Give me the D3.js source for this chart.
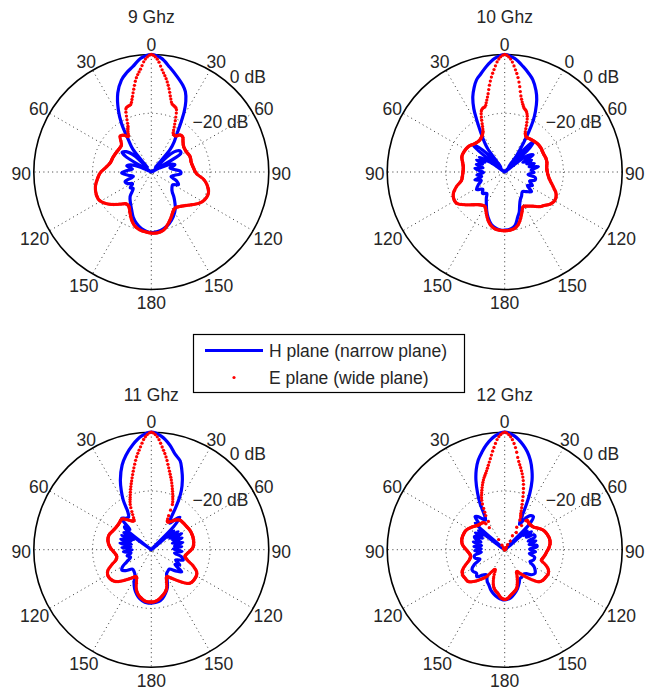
<!DOCTYPE html>
<html><head><meta charset="utf-8">
<script src="https://cdn.jsdelivr.net/npm/d3@7"></script>
<style>
body{margin:0;background:#fff}
svg{display:block}
text{font-family:"Liberation Sans",Arial,Helvetica,sans-serif;fill:#262626}
</style>
</head><body>
<svg id="chart" width="653" height="690"></svg>
<script>
// ---------------- data ----------------
const frequencies = ["9 Ghz", "10 Ghz", "11 Ghz", "12 Ghz"];
const angleTicks = [0, 30, 60, 90, 120, 150, 180];
const dbRings = [0, -20];
const dbMin = -40;
const seriesNames = ["H plane (narrow plane)", "E plane (wide plane)"];

// [angle (deg, clockwise from top, negative = left), level (dB)]
const h9 = [[-175,-19.8],[-170,-20.5],[-164,-21.8],[-158,-23.5],[-152.5,-25.5],[-146,-27.3],[-139,-29],[-132,-31.7],[-127,-31],[-122,-32.5],[-116,-31],[-110,-30.5],[-104,-33.7],[-98,-32],[-92,-29.9],[-86,-32],[-81,-33.5],[-76,-31.4],[-71,-32.5],[-66,-36],[-62,-40],[-59,-30],[-56,-28],[-51,-29],[-46,-32],[-42,-38],[-39,-30],[-35.5,-26.6],[-31.5,-20.6],[-28,-16.1],[-23,-10.8],[-18,-7.1],[-14,-5.2],[-10,-3.6],[-5,-1],
  [0,0],[5,-1.1],[10,-3.8],[15,-6.3],[20,-8.6],[23,-10.3],[26,-13.2],[28.5,-16.5],[31,-20.5],[34,-24.5],[37,-27],[40,-30],[43,-38],[47,-31],[51,-28.5],[55,-27.8],[58,-28.2],[61,-40],[64,-37],[68,-33],[73,-31.6],[78,-33.5],[83,-32.5],[88,-30.2],[93,-29.9],[98,-32],[103,-33.1],[109,-31],[115,-29.8],[121,-31.5],[127,-31.2],[133,-30.3],[138,-28.5],[142,-27],[147,-25],[154,-23],[161,-21.4],[168,-20.2],[174,-19.6],[180,-19.4]];
const e9 = [[-175,-19.5],[-170,-19.8],[-163,-20.8],[-157,-22.6],[-152,-24.5],[-147,-26],[-142,-26.2],[-136,-24.8],[-130,-22.8],[-124,-21],[-118,-19.8],[-112,-19.8],[-105,-20.3],[-98,-21.4],[-91,-22.6],[-84,-24.5],[-77,-25.7],[-70,-26],[-62,-26.3],[-55,-26.5],[-48,-26.3],[-44,-25],[-41,-23.8],[-37,-24.3],[-33,-25.6],[-30,-24],[-27,-22.5],[-24,-19.2],[-21.5,-16.6],[-19,-16.2],[-17,-16],[-15,-14.5],[-12,-11.2],[-9,-7.5],[-6,-4.8],[-3,-1.5],
  [0,0],[3,-1.5],[6,-5],[9,-7.8],[12,-11],[15,-14.3],[17,-15.8],[19,-16.2],[21.5,-16.8],[24,-19.5],[27,-22.8],[30,-25],[34,-25.2],[38,-24],[42,-24],[46,-25],[52,-26],[60,-26.2],[68,-25.8],[76,-26],[84,-25.6],[92,-24.6],[98,-22],[104,-20.3],[110,-19.3],[116,-19.4],[122,-20.3],[128,-22],[134,-23.6],[140,-24.7],[146,-25.3],[151,-24.7],[156,-23.3],[162,-21.5],[168,-19.8],[174,-19.2],[180,-19.2]];

const h10 = [[-176,-20.2],[-172,-20.5],[-166,-21.5],[-160,-23.5],[-155,-25.5],[-150,-27.5],[-145,-29.1],[-140,-30.5],[-134,-29.5],[-128,-30.5],[-122,-28.7],[-116,-30],[-110,-31.5],[-105,-29.5],[-101,-32],[-96,-30.5],[-91,-32.8],[-87,-31.5],[-83,-29.8],[-79,-32.5],[-75,-30],[-71,-32],[-67,-29.6],[-64,-32.5],[-60,-30],[-56,-34],[-53,-40],[-50,-26.2],[-48,-26.5],[-44,-31],[-40,-38],[-36,-30],[-33.5,-27],[-30.5,-23.4],[-28,-19.5],[-26,-16],[-23,-12.2],[-20,-9.5],[-17,-7.2],[-14,-5.8],[-10,-3.6],[-5,-1.2],
  [0,0],[5,-1.2],[10,-3.6],[14,-5.6],[17,-7.2],[21,-10.3],[24,-13.2],[27,-17],[29,-20],[31,-24],[33,-28.4],[36,-33],[38,-38],[41,-29],[43.5,-25.8],[46,-28],[49,-40],[53,-32],[56,-29.5],[59,-28.7],[62,-33],[66,-30],[70,-32],[74,-29.5],[78,-31.5],[81,-28.4],[86,-31],[91,-30],[96,-32],[100,-29.5],[105,-29.3],[110,-31],[116,-29.5],[121,-31],[126,-28.7],[132,-30],[138,-31],[145,-30],[151,-29.1],[156,-27.5],[160,-25.5],[164,-24],[169,-21.5],[174,-20.5],[180,-20.2]];
const e10 = [[-175,-20.1],[-170,-20.4],[-164,-21.6],[-159,-23.4],[-155,-25],[-150,-26.5],[-143,-26],[-136,-24.5],[-129,-22.3],[-123,-20.5],[-118,-20.4],[-113,-21],[-107,-22.8],[-101,-25],[-96,-25.5],[-90,-25.8],[-83,-25.8],[-77,-25.3],[-70,-24.5],[-61,-24.6],[-54,-25],[-46,-26],[-38,-26.2],[-33,-25.6],[-29,-24.7],[-26,-22.8],[-23.5,-20.2],[-21,-17.8],[-19,-17],[-16.8,-16.8],[-14.5,-15.2],[-12,-12.8],[-10,-10],[-8,-7.4],[-6,-5],[-3,-1.5],
  [0,0],[3,-1.5],[6,-5],[8,-7.5],[10,-10.5],[12,-13.5],[14.5,-15.8],[17,-17.3],[19.5,-18],[22,-19.5],[25,-22.5],[28,-25.1],[32,-26],[38,-25.8],[48,-25.3],[56,-25.2],[64,-25.4],[72,-25.2],[78,-25.3],[83,-25.6],[90,-25.5],[96,-25],[101,-24.2],[107,-22.7],[113,-21],[119,-20.4],[125,-21],[130,-22.3],[135,-23.3],[140,-24.8],[146,-26],[152,-26.6],[157,-25],[162,-22.9],[166,-21.4],[170,-20.5],[175,-20.1],[180,-20]];

const h11 = [[-177,-21.8],[-173,-22],[-167,-22.8],[-162,-24],[-157,-25.5],[-152,-27.5],[-147,-29.8],[-142,-30.5],[-136,-30.8],[-130,-29],[-125,-27.8],[-121,-28.5],[-116,-30.7],[-110,-32.5],[-104,-31.5],[-99,-33],[-94,-30.5],[-90,-33.5],[-86,-30],[-82,-33],[-78,-29.1],[-75,-33],[-71,-29],[-67,-32.5],[-64,-28.8],[-61,-33],[-58,-29],[-55,-31],[-53,-40],[-51,-28.5],[-49,-28],[-46.5,-30],[-43.5,-25.3],[-39,-26.2],[-35,-26.5],[-32,-25],[-29.5,-20.6],[-27,-17.5],[-24,-14.1],[-19,-9.5],[-15,-6.7],[-10,-3.7],[-5,-1.2],
  [0,0],[5,-1.2],[10,-3.8],[14,-6.5],[18,-8.2],[21,-11],[24,-14],[27,-17.5],[29,-21],[30.5,-24.5],[32,-27.5],[35,-29],[38,-27],[41.5,-25.3],[44,-29],[47,-40],[50,-30],[53,-33],[56,-29],[59,-32.5],[62,-28.3],[65,-32],[69,-28.8],[73,-32.5],[77,-29],[81,-32],[84,-29.6],[88,-32.5],[93,-29.5],[98,-32],[103,-29.5],[108,-28.6],[113,-31],[118,-29],[122,-30.5],[126,-27.2],[131,-29],[137,-31],[142,-30.8],[147,-30.4],[152,-28.5],[157,-26],[162,-24.4],[167,-23],[172,-22.2],[180,-21.8]];
const e11 = [[-174,-22.3],[-168,-23.2],[-163,-24.3],[-159,-25.8],[-155,-28],[-151,-29.5],[-146,-28.5],[-142,-27.3],[-137,-25.5],[-132,-23.8],[-127,-23],[-121,-22.8],[-116,-23.5],[-111,-25.5],[-106,-27.5],[-100,-28],[-94,-27.3],[-88,-26.2],[-82,-25.3],[-76,-24.8],[-70,-24.8],[-64,-25.4],[-57,-25.8],[-50,-25.8],[-44,-25.5],[-39,-26.8],[-35,-28],[-31,-28.5],[-28,-26.5],[-25,-23],[-22,-20.8],[-19,-18.3],[-15.5,-15.2],[-12,-11.5],[-9,-8],[-6,-4.8],[-3,-1.5],
  [0,0],[3,-1.5],[6,-4.8],[9,-8],[12,-11.5],[16,-15.3],[19,-18],[22,-20.5],[25,-23],[27,-27],[30,-29],[34,-28.5],[39,-27],[44,-26],[50,-25.8],[57,-25.6],[63,-25.3],[68,-25.2],[75,-25.2],[81,-25.4],[86,-25.7],[91,-26.6],[96,-27.7],[101,-28.3],[106,-27.2],[111,-24.8],[117,-22.6],[124,-22.2],[131,-22.6],[136,-24.5],[141,-26.8],[146,-28.5],[150,-29.4],[154,-28.2],[158,-26],[162,-24.8],[166,-24],[171,-23],[176,-22.3],[180,-22.2]];

const h12 = [[-177,-23],[-172,-23.5],[-166,-24.5],[-161,-25.5],[-156,-26.8],[-152,-27.5],[-148,-28.5],[-144,-29.5],[-139,-28.5],[-134,-26.8],[-130,-27.5],[-125,-27],[-121,-27],[-116,-28.5],[-111,-31],[-106,-29.5],[-101,-29.5],[-96,-32],[-92,-29.8],[-88,-32],[-84,-29.5],[-80,-32],[-76,-29],[-72,-31.5],[-69,-29.2],[-66,-28.8],[-63,-31.5],[-60,-28.5],[-57,-31],[-54,-29],[-51,-40],[-48,-26.5],[-45,-28],[-42,-24.9],[-39,-25.5],[-36,-27],[-33,-28],[-30.5,-26.5],[-28,-22.1],[-25.5,-18.5],[-22.5,-14.4],[-19.5,-11],[-16.5,-8.2],[-13,-5.8],[-10,-3.8],[-5,-1.2],
  [0,0],[5,-1.2],[10,-3.8],[13,-5.8],[16,-8.3],[19,-11.5],[21.5,-14.6],[24,-19],[25.5,-22.6],[27.5,-27.4],[30,-30],[33,-27.5],[37,-25.5],[41,-25.1],[44,-27.5],[47,-40],[50,-30],[53,-32],[56,-29],[60,-31.5],[63,-28.8],[67,-28.8],[70,-31.5],[74,-29],[78,-31.5],[82,-29],[85,-29],[89,-31.5],[94,-29.5],[99,-31.5],[104,-29.5],[110,-29.6],[115,-30.5],[120,-28.5],[124,-27.5],[128,-26.9],[133,-27.5],[138,-29],[143,-29.5],[148,-29],[152,-28.9],[157,-27.5],[162,-26],[167,-24.8],[173,-23.5],[180,-22.9]];
const e12 = [[-176,-23.5],[-171,-25],[-166,-26],[-162,-27.5],[-158,-30],[-154,-32.5],[-150,-31.5],[-146,-29],[-141,-27],[-136,-25],[-131,-23.5],[-126,-23.4],[-121,-23.3],[-116,-24],[-111,-25.8],[-106,-27.5],[-100,-28.2],[-94,-27.6],[-88,-26.5],[-83,-25.5],[-77,-25],[-70,-25],[-63,-25.3],[-55,-26.5],[-47,-27.7],[-41,-28],[-37,-28.5],[-34.5,-36],[-32.5,-40],[-31,-36],[-29.5,-27.5],[-27.5,-25],[-25,-21.5],[-21,-18.3],[-17,-15.2],[-13,-12.5],[-9.3,-9],[-6,-5],[-3,-1.5],
  [0,0],[3,-1.5],[6,-5],[8.7,-9.2],[12,-12.5],[15,-15.6],[18,-19.5],[21.5,-24],[24,-26.5],[26.5,-28],[28.5,-33],[30,-38],[31.5,-40],[33,-36.5],[35,-30],[37,-27.4],[42,-27.8],[47,-27.8],[52,-27.5],[58,-26.3],[63,-25.3],[69,-24.7],[76,-24.3],[82,-24.4],[88,-25],[93,-25.7],[98,-26.2],[103,-26.8],[106,-27],[110,-25.3],[114,-23.8],[118.5,-23.1],[124,-23.2],[129,-23.4],[133,-24],[137,-25.8],[142,-28.3],[147,-30.4],[151,-31.5],[155,-30],[159,-28],[163,-26.2],[167,-25.4],[172,-24.5],[177,-23.3],[180,-23.1]];

const hSeries = [h9, h10, h11, h12];
const eSeries = [e9, e10, e11, e12];

// ---------------- layout ----------------
const W = 653, H = 690;
const R = 117.5;
const panels = [
  {cx: 151.3, cy: 172},
  {cx: 504.7, cy: 172},
  {cx: 151.3, cy: 549.7},
  {cx: 504.7, cy: 549.7}
];
const FS = 17.5;
const blue = "#0000ff", red = "#ff0000";

const svg = d3.select("#chart");
svg.append("rect").attr("width", W).attr("height", H).attr("fill", "#fff");

const rad = d => d * Math.PI / 180;

panels.forEach((p, i) => {
  const g = svg.append("g").attr("transform", `translate(${p.cx},${p.cy})`);
  const r = d3.scaleLinear().domain([dbMin, 0]).range([0, R]).clamp(true);

  // dotted spokes
  angleTicks.filter(a => a < 180).forEach(a => {
    g.append("line")
      .attr("x1", R * Math.sin(rad(a))).attr("y1", -R * Math.cos(rad(a)))
      .attr("x2", -R * Math.sin(rad(a))).attr("y2", R * Math.cos(rad(a)))
      .attr("stroke", "#333").attr("stroke-width", 1)
      .attr("stroke-dasharray", "1 3.4");
  });
  // dotted inner rings
  dbRings.filter(d => d > dbMin && d < 0).forEach(d => {
    g.append("circle").attr("r", r(d)).attr("fill", "none")
      .attr("stroke", "#333").attr("stroke-width", 1)
      .attr("stroke-dasharray", "1 3.4");
  });
  // outer circle
  g.append("circle").attr("r", r(0)).attr("fill", "none")
    .attr("stroke", "#000").attr("stroke-width", 1.6);

  // angle labels
  const labelR = 1.1 * R;
  angleTicks.forEach(a => {
    const sides = (a === 0 || a === 180) ? [1] : [-1, 1];
    sides.forEach(s => {
      const ang = rad(a * s);
      let txt = String(a);
      if (i === 1 && a === 30 && s === 1) txt = "0";
      const t = g.append("text")
        .attr("text-anchor", "middle")
        .attr("dominant-baseline", "central")
        .attr("font-size", FS)
        .text(txt);
      const w = t.node().getComputedTextLength();
      const extra = Math.max(0, (w - 18) / 2) * Math.abs(Math.sin(ang)) * Math.sign(Math.sin(ang));
      t.attr("x", labelR * Math.sin(ang) + extra)
       .attr("y", -labelR * Math.cos(ang) + 2);
    });
  });

  // dB labels
  dbRings.forEach(d => {
    const rr = r(d) + 6, a = rad(39.5);
    g.append("text")
      .attr("x", rr * Math.sin(a)).attr("y", -rr * Math.cos(a))
      .attr("text-anchor", "start").attr("dominant-baseline", "central")
      .attr("font-size", FS)
      .text((d < 0 ? "\u2212" + Math.abs(d) : d) + " dB");
  });

  const line = d3.lineRadial()
    .angle(d => rad(d[0]))
    .radius(d => r(d[1]))
    .curve(d3.curveCatmullRomClosed.alpha(0.5));

  // H plane (solid blue)
  g.append("path").datum(hSeries[i]).attr("d", line)
    .attr("fill", "none").attr("stroke", blue).attr("stroke-width", 3.2)
    .attr("stroke-linejoin", "round");

  // E plane: '.' markers, one per degree of angle along the drawn curve
  const guide = g.append("path").datum(eSeries[i]).attr("d", line)
    .attr("fill", "none").attr("stroke", "none");
  const node = guide.node();
  const L = node.getTotalLength();
  const dots = [];
  let prevBin = null;
  for (let s = 0; s <= L; s += 0.15) {
    const pt = node.getPointAtLength(s);
    const ang = Math.atan2(pt.x, -pt.y) * 180 / Math.PI;
    const bin = Math.floor(ang);
    if (bin !== prevBin) { dots.push([pt.x, pt.y]); prevBin = bin; }
  }
  guide.remove();
  g.append("g").selectAll("circle").data(dots).join("circle")
    .attr("cx", d => d[0]).attr("cy", d => d[1]).attr("r", 1.65)
    .attr("fill", red);

  // title
  g.append("text").attr("x", 0).attr("y", -155)
    .attr("text-anchor", "middle").attr("dominant-baseline", "central")
    .attr("font-size", FS).text(frequencies[i]);
});

// legend
const lg = svg.append("g");
lg.append("rect").attr("x", 193.5).attr("y", 334.5).attr("width", 271).attr("height", 58)
  .attr("fill", "#fff").attr("stroke", "#000").attr("stroke-width", 1.2);
lg.append("line").attr("x1", 205).attr("x2", 263).attr("y1", 350.5).attr("y2", 350.5)
  .attr("stroke", blue).attr("stroke-width", 3.2);
lg.append("circle").attr("cx", 234).attr("cy", 377.5).attr("r", 1.6).attr("fill", red);
lg.append("text").attr("x", 269).attr("y", 350.5).attr("dominant-baseline", "central")
  .attr("font-size", FS).text(seriesNames[0]);
lg.append("text").attr("x", 269).attr("y", 378).attr("dominant-baseline", "central")
  .attr("font-size", FS).text(seriesNames[1]);
</script>
</body></html>
